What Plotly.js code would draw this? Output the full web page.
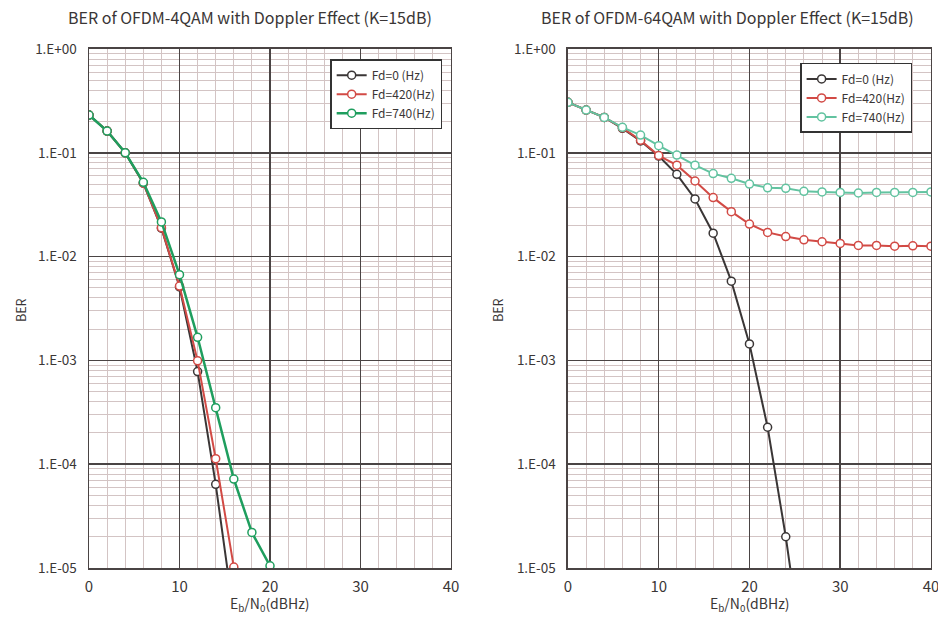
<!DOCTYPE html>
<html>
<head>
<meta charset="utf-8">
<script src="https://cdn.plot.ly/plotly-3.0.1.min.js"></script>
<style>html,body{margin:0;padding:0;background:#fff;}#chart{width:938px;height:617px;}</style>
</head>
<body>
<div id="chart"></div>
<script>
// ---- data ----
const ebn0 = [0,2,4,6,8,10,12,14,16,18,20,22,24,26,28,30,32,34,36,38,40];
const seriesNames = ["Fd=0 (Hz)", "Fd=420(Hz)", "Fd=740(Hz)"];

// Left: OFDM-4QAM
const qam4_x = [0,2,4,6,8,10,12,14,16];
const qam4_fd0   = [0.231,0.162,0.100,0.051,0.0188,0.0051,0.00078,0.000064,0.0000035];
const qam4_fd420_x = [0,2,4,6,8,10,12,14,16];
const qam4_fd420 = [0.231,0.162,0.100,0.051,0.0190,0.0052,0.00099,0.000113,0.0000102];
const qam4_fd740_x = [0,2,4,6,8,10,12,14,16,18,20];
const qam4_fd740 = [0.231,0.162,0.100,0.052,0.0216,0.0067,0.00167,0.00035,0.000072,0.000022,0.0000105];

// Right: OFDM-64QAM
const qam64_fd0_x = [0,2,4,6,8,10,12,14,16,18,20,22,24,26];
const qam64_fd0   = [0.306,0.258,0.219,0.172,0.130,0.093,0.062,0.0359,0.0168,0.0058,0.00144,0.000227,0.000020,0.0000012];
const qam64_fd420 = [0.306,0.258,0.219,0.174,0.132,0.094,0.076,0.0535,0.037,0.0271,0.0206,0.0171,0.0156,0.0145,0.0139,0.0134,0.0128,0.0128,0.0126,0.0127,0.0126];
const qam64_fd740 = [0.306,0.258,0.219,0.176,0.148,0.117,0.095,0.076,0.063,0.0568,0.050,0.046,0.0455,0.0425,0.042,0.0415,0.041,0.0415,0.0415,0.0415,0.042];

const yTickVals = [1,0.1,0.01,0.001,0.0001,0.00001];
const yTickText = ["1.E+00","1.E-01","1.E-02","1.E-03","1.E-04","1.E-05"];
const xTickVals = [0,10,20,30,40];

// ---- styles ----
const cBlack = "#3a3636", cRed = "#d24a45", cGreen = "#1f9e5e", cGreen2 = "#62c3a0";
function tr(x, y, name, color, w, xa, ya, leg) {
  return {x: x, y: y, name: name, type: "scatter", mode: "lines+markers",
    xaxis: xa, yaxis: ya, legend: leg, showlegend: true,
    line: {color: color, width: w},
    marker: {size: 8, color: "#ffffff", line: {color: color, width: 1.5}}};
}
const traces = [
  tr(qam4_x, qam4_fd0, seriesNames[0], cBlack, 2, "x", "y", "legend"),
  tr(qam4_fd420_x, qam4_fd420, seriesNames[1], cRed, 2, "x", "y", "legend"),
  tr(qam4_fd740_x, qam4_fd740, seriesNames[2], cGreen, 2.5, "x", "y", "legend"),
  tr(qam64_fd0_x, qam64_fd0, seriesNames[0], cBlack, 2, "x2", "y2", "legend2"),
  tr(ebn0, qam64_fd420, seriesNames[1], cRed, 2, "x2", "y2", "legend2"),
  tr(ebn0, qam64_fd740, seriesNames[2], cGreen2, 2, "x2", "y2", "legend2")
];

const fontFam = "'Noto Sans CJK JP', 'DejaVu Sans', sans-serif";
const txtColor = "#3a3636";
function xax(dom) {
  return {domain: dom, range: [0,40], tickvals: xTickVals, ticks: "",
    showgrid: true, gridcolor: "#4a4444", gridwidth: 1.5,
    minor: {dtick: 2, showgrid: true, gridcolor: "#d3c4c4", gridwidth: 1},
    showline: true, linecolor: "#4a4444", linewidth: 1.5, mirror: true,
    zeroline: false, ticklabelstandoff: 4, ticklabeloverflow: "allow",
    tickfont: {size: 15, color: txtColor, family: fontFam}};
}
function yax(anchor) {
  return {domain: [0.0794, 0.9206], type: "log", range: [-5, 0], anchor: anchor,
    tickvals: yTickVals, ticktext: yTickText, ticks: "",
    showgrid: true, gridcolor: "#4a4444", gridwidth: 1.5,
    minor: {dtick: "D1", showgrid: true, gridcolor: "#d3c4c4", gridwidth: 1},
    showline: true, linecolor: "#4a4444", linewidth: 1.5, mirror: true,
    zeroline: false, ticklabelstandoff: 8, ticklabeloverflow: "allow",
    tickfont: {size: 13.5, color: txtColor, family: fontFam}};
}
function legendCfg(x, y) {
  return {x: x, y: y, xanchor: "left", yanchor: "top", bgcolor: "#ffffff",
    bordercolor: "#333", borderwidth: 1.5, font: {size: 12, color: txtColor, family: fontFam},
    itemwidth: 30};
}
function ann(text, xpx, ypx, size, angle) {
  return {text: text, xref: "paper", yref: "paper", x: xpx/938, y: 1 - ypx/617,
    xanchor: "center", yanchor: "middle", textangle: angle || 0,
    showarrow: false, font: {size: size, color: txtColor, family: fontFam}};
}
const layout = {
  width: 938, height: 617, margin: {l: 0, r: 0, t: 0, b: 0},
  paper_bgcolor: "#ffffff", plot_bgcolor: "#ffffff",
  font: {family: fontFam, color: txtColor},
  xaxis: xax([0.0949, 0.4808]), yaxis: yax("x"),
  xaxis2: Object.assign(xax([0.6055, 0.9925]), {anchor: "y2"}), yaxis2: yax("x2"),
  legend: legendCfg(0.352, 0.904),
  legend2: legendCfg(0.853, 0.898),
  annotations: [
    ann("BER of OFDM-4QAM with Doppler Effect (K=15dB)", 250, 17, 16),
    ann("BER of OFDM-64QAM with Doppler Effect (K=15dB)", 727, 17, 16),
    ann("BER", 20, 310, 12.5, -90),
    ann("BER", 497, 310, 12.5, -90),
    ann("E<sub>b</sub>/N<sub>0</sub>(dBHz)", 270, 604, 14),
    ann("E<sub>b</sub>/N<sub>0</sub>(dBHz)", 750, 604, 14)
  ]
};
Plotly.newPlot("chart", traces, layout, {staticPlot: true, displayModeBar: false});
</script>
</body>
</html>
